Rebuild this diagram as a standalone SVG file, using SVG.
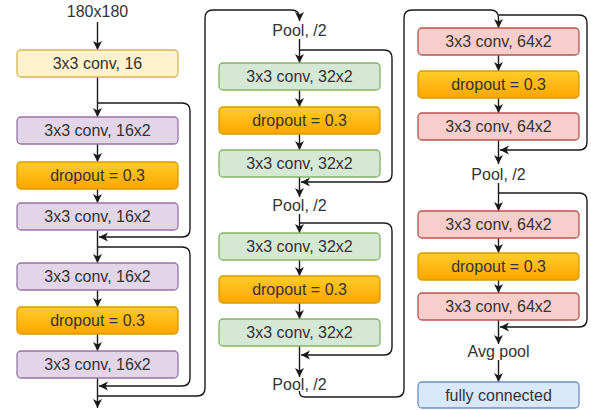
<svg xmlns="http://www.w3.org/2000/svg" width="591" height="410" viewBox="0 0 591 410">
  <style>
    .lbl { font-family: "Liberation Sans", Arial, Helvetica, sans-serif; font-size: 16px; fill: #333; text-anchor: middle; }
    .box { stroke-width: 1.3; }
    .init { fill: #fff2cc; stroke: #d6b656; }
    .b16 { fill: #e1d5e7; stroke: #9673a6; }
    .b32 { fill: #d5e8d4; stroke: #82b366; }
    .b64 { fill: #f8cecc; stroke: #b85450; }
    .drop { fill: url(#dropGrad); stroke: #d79b00; }
    .fc { fill: #dae8fc; stroke: #6c8ebf; }
    .edge { fill: none; stroke: #1a1a1a; stroke-width: 1.4; marker-end: url(#arrow); }
    .plain { fill: none; stroke: #1a1a1a; stroke-width: 1.4; }
  </style>
  <defs>
    <linearGradient id="dropGrad" x1="0" y1="0" x2="0" y2="1">
      <stop offset="0" stop-color="#ffcd28"/>
      <stop offset="1" stop-color="#ffa500"/>
    </linearGradient>
    <marker id="arrow" markerUnits="userSpaceOnUse" markerWidth="10" markerHeight="10" refX="9" refY="4.5" orient="auto">
      <path d="M0,0 L9,4.5 L0,9 L2.5,4.5 z" fill="#1a1a1a"/>
    </marker>
  </defs>

  <!-- connectors -->
  <g id="connectors">
    <!-- column 1 -->
    <path class="edge" d="M97.5,22 V50"/>
    <path class="edge" d="M97.5,77 V117"/>
    <path class="edge" d="M97.5,144 V162"/>
    <path class="edge" d="M97.5,189 V203"/>
    <path class="edge" d="M97.5,230 V263"/>
    <path class="edge" d="M97.5,290 V307"/>
    <path class="edge" d="M97.5,334 V351"/>
    <path class="edge" d="M97.5,378 V408"/>
    <path class="edge" d="M97.5,103 H182 Q190,103 190,111 V229 Q190,237 182,237 H99"/>
    <path class="edge" d="M97.5,247 H182 Q190,247 190,255 V378 Q190,386 182,386 H99"/>
    <path class="edge" d="M97.5,396 H197 Q205,396 205,388 V18 Q205,10 213,10 H291.5 Q299.5,10 299.5,18 V21"/>
    <!-- column 2 -->
    <path class="edge" d="M299.5,39 V63"/>
    <path class="edge" d="M299.5,90 V107"/>
    <path class="edge" d="M299.5,134 V150"/>
    <path class="edge" d="M299.5,177 V197"/>
    <path class="edge" d="M299.5,214 V233"/>
    <path class="edge" d="M299.5,260 V276"/>
    <path class="edge" d="M299.5,303 V319"/>
    <path class="edge" d="M299.5,346 V377"/>
    <path class="edge" d="M299.5,50 H384 Q392,50 392,58 V174 Q392,182 384,182 H301"/>
    <path class="edge" d="M299.5,223 H384 Q392,223 392,231 V347 Q392,355 384,355 H301"/>
    <path class="edge" d="M299.5,391 V392 Q299.5,397 305,397 H396 Q404,397 404,389 V18 Q404,10 412,10 H490.5 Q498.5,10 498.5,18 V28"/>
    <!-- column 3 -->
    <path class="edge" d="M498.5,55 V71"/>
    <path class="edge" d="M498.5,98 V113"/>
    <path class="edge" d="M498.5,140 V164"/>
    <path class="edge" d="M498.5,183 V211"/>
    <path class="edge" d="M498.5,238 V253"/>
    <path class="edge" d="M498.5,280 V293"/>
    <path class="edge" d="M498.5,320 V344"/>
    <path class="edge" d="M498.5,360 V382"/>
    <path class="edge" d="M498.5,15 H579 Q587,15 587,23 V142 Q587,150 579,150 H500"/>
    <path class="edge" d="M498.5,193 H579 Q587,193 587,201 V319 Q587,327 579,327 H500"/>
  </g>

  <!-- column 1 -->
  <g id="input"><text class="lbl" x="97.5" y="17">180x180</text></g>
  <g id="conv16"><rect class="box init" x="17" y="50" width="161" height="27" rx="4"/><text class="lbl" x="97.5" y="69">3x3 conv, 16</text></g>
  <g id="conv16a1"><rect class="box b16" x="17" y="117" width="161" height="27" rx="4"/><text class="lbl" x="97.5" y="136">3x3 conv, 16x2</text></g>
  <g id="dropA1"><rect class="box drop" x="17" y="162" width="161" height="27" rx="4"/><text class="lbl" x="97.5" y="181">dropout = 0.3</text></g>
  <g id="conv16a2"><rect class="box b16" x="17" y="203" width="161" height="27" rx="4"/><text class="lbl" x="97.5" y="222">3x3 conv, 16x2</text></g>
  <g id="conv16b1"><rect class="box b16" x="17" y="263" width="161" height="27" rx="4"/><text class="lbl" x="97.5" y="282">3x3 conv, 16x2</text></g>
  <g id="dropB1"><rect class="box drop" x="17" y="307" width="161" height="27" rx="4"/><text class="lbl" x="97.5" y="326">dropout = 0.3</text></g>
  <g id="conv16b2"><rect class="box b16" x="17" y="351" width="161" height="27" rx="4"/><text class="lbl" x="97.5" y="370">3x3 conv, 16x2</text></g>

  <!-- column 2 -->
  <g id="pool1"><text class="lbl" x="299.5" y="36">Pool, /2</text></g>
  <g id="conv32a1"><rect class="box b32" x="219" y="63" width="161" height="27" rx="4"/><text class="lbl" x="299.5" y="82">3x3 conv, 32x2</text></g>
  <g id="dropA2"><rect class="box drop" x="219" y="107" width="161" height="27" rx="4"/><text class="lbl" x="299.5" y="126">dropout = 0.3</text></g>
  <g id="conv32a2"><rect class="box b32" x="219" y="150" width="161" height="27" rx="4"/><text class="lbl" x="299.5" y="169">3x3 conv, 32x2</text></g>
  <g id="pool2"><text class="lbl" x="299.5" y="211">Pool, /2</text></g>
  <g id="conv32b1"><rect class="box b32" x="219" y="233" width="161" height="27" rx="4"/><text class="lbl" x="299.5" y="252">3x3 conv, 32x2</text></g>
  <g id="dropB2"><rect class="box drop" x="219" y="276" width="161" height="27" rx="4"/><text class="lbl" x="299.5" y="295">dropout = 0.3</text></g>
  <g id="conv32b2"><rect class="box b32" x="219" y="319" width="161" height="27" rx="4"/><text class="lbl" x="299.5" y="338">3x3 conv, 32x2</text></g>
  <g id="pool3"><text class="lbl" x="299.5" y="390">Pool, /2</text></g>

  <!-- column 3 -->
  <g id="conv64a1"><rect class="box b64" x="418" y="28" width="161" height="27" rx="4"/><text class="lbl" x="498.5" y="47">3x3 conv, 64x2</text></g>
  <g id="dropA3"><rect class="box drop" x="418" y="71" width="161" height="27" rx="4"/><text class="lbl" x="498.5" y="90">dropout = 0.3</text></g>
  <g id="conv64a2"><rect class="box b64" x="418" y="113" width="161" height="27" rx="4"/><text class="lbl" x="498.5" y="132">3x3 conv, 64x2</text></g>
  <g id="pool4"><text class="lbl" x="498.5" y="180">Pool, /2</text></g>
  <g id="conv64b1"><rect class="box b64" x="418" y="211" width="161" height="27" rx="4"/><text class="lbl" x="498.5" y="230">3x3 conv, 64x2</text></g>
  <g id="dropB3"><rect class="box drop" x="418" y="253" width="161" height="27" rx="4"/><text class="lbl" x="498.5" y="272">dropout = 0.3</text></g>
  <g id="conv64b2"><rect class="box b64" x="418" y="293" width="161" height="27" rx="4"/><text class="lbl" x="498.5" y="312">3x3 conv, 64x2</text></g>
  <g id="avgpool"><text class="lbl" x="498.5" y="357">Avg pool</text></g>
  <g id="fc"><rect class="box fc" x="418" y="382" width="161" height="26" rx="4"/><text class="lbl" x="498.5" y="400.5">fully connected</text></g>
</svg>
